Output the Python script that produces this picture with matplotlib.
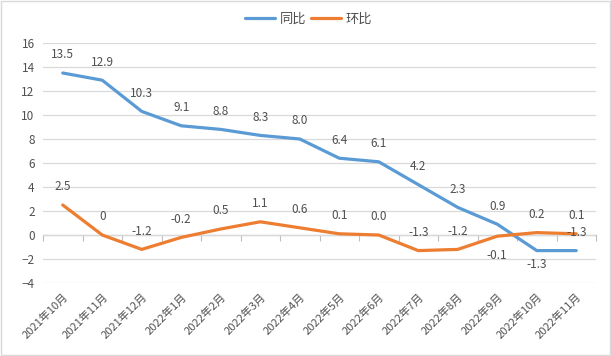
import matplotlib
matplotlib.use("Agg")
import matplotlib.pyplot as plt
from matplotlib.patches import Rectangle

plt.rcParams["font.family"] = ["Noto Sans CJK SC", "DejaVu Sans"]

# data
months = [
    "2021年10月", "2021年11月", "2021年12月", "2022年1月", "2022年2月",
    "2022年3月", "2022年4月", "2022年5月", "2022年6月", "2022年7月",
    "2022年8月", "2022年9月", "2022年10月", "2022年11月",
]
yoy = [13.5, 12.9, 10.3, 9.1, 8.8, 8.3, 8.0, 6.4, 6.1, 4.2, 2.3, 0.9, -1.3, -1.3]
mom = [2.5, 0, -1.2, -0.2, 0.5, 1.1, 0.6, 0.1, 0.0, -1.3, -1.2, -0.1, 0.2, 0.1]
yoy_text = ["13.5", "12.9", "10.3", "9.1", "8.8", "8.3", "8.0", "6.4", "6.1",
            "4.2", "2.3", "0.9", "-1.3", "-1.3"]
mom_text = ["2.5", "0", "-1.2", "-0.2", "0.5", "1.1", "0.6", "0.1", "0.0",
            "-1.3", "-1.2", "-0.1", "0.2", "0.1"]

# label placement (above / below the point)
yoy_pos = ["up"] * 12 + ["down", "up"]
mom_pos = ["up"] * 11 + ["down", "up", "up"]

blue = "#5b9bd5"
orange = "#ed7d31"
text_col = "#505050"
grid_col = "#d9d9d9"

fig = plt.figure(figsize=(6.11, 3.56), dpi=100)
ax = fig.add_axes([43 / 611, 1 - 283 / 356, 553 / 611, 240 / 356])

x = list(range(len(months)))
ax.plot(x, yoy, color=blue, lw=2.3, label="同比", solid_capstyle="round")
ax.plot(x, mom, color=orange, lw=2.3, label="环比", solid_capstyle="round")

for xi, v, t, p in zip(x, yoy, yoy_text, yoy_pos):
    off = 13 if p == "up" else -10
    ax.annotate(t, (xi, v), xytext=(0, off), textcoords="offset points",
                ha="center", va="center", fontsize=8.5, color=text_col)
for xi, v, t, p in zip(x, mom, mom_text, mom_pos):
    off = 13 if p == "up" else -14
    ax.annotate(t, (xi, v), xytext=(0, off), textcoords="offset points",
                ha="center", va="center", fontsize=8.5, color=text_col)

ax.set_xlim(-0.5, len(months) - 0.5)
ax.set_ylim(-4, 16)
ax.set_yticks(range(-4, 17, 2))
ax.grid(axis="y", color=grid_col, lw=0.9)
ax.set_axisbelow(True)
for s in ax.spines.values():
    s.set_visible(False)

ax.set_xticks(x)
ax.set_xticklabels(months, rotation=45, ha="right", rotation_mode="anchor",
                   fontsize=8, color=text_col)
ax.tick_params(axis="x", length=0, pad=6)
ax.tick_params(axis="y", length=0, labelsize=8.5, labelcolor=text_col, pad=6)

# category axis line at zero with boundary ticks
sec = ax.secondary_xaxis(4 / 20)
sec.set_xticks([i - 0.5 for i in range(len(months) + 1)])
sec.set_xticklabels([])
sec.tick_params(axis="x", direction="out", length=4, color="#bfbfbf", width=0.8)
sec.spines["bottom"].set_color("#bfbfbf")
sec.spines["bottom"].set_linewidth(0.9)

leg = fig.legend(loc="center", bbox_to_anchor=(0.505, 1 - 19 / 356), ncol=2,
                 frameon=False, fontsize=9.5, handlelength=2.3, columnspacing=0.3,
                 handletextpad=0.35, borderpad=0)
for t in leg.get_texts():
    t.set_color(text_col)

fig.add_artist(Rectangle((0.001, 0.002), 0.997, 0.995, transform=fig.transFigure,
                         fill=False, edgecolor="#d9d9d9", lw=1))

fig.savefig("out.png", dpi=100, facecolor="white")
